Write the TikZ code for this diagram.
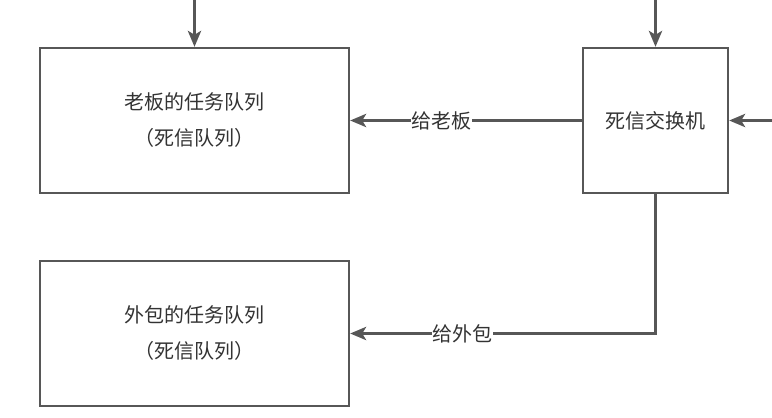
\documentclass[tikz,border=0pt]{standalone}
\usepackage{fontspec}
\setmainfont{Noto Sans CJK SC}
\usetikzlibrary{arrows.meta}
\definecolor{linegray}{HTML}{575757}
\definecolor{textgray}{HTML}{333333}
\begin{document}
\begin{tikzpicture}[x=0.75pt,y=-0.75pt,
  box/.style={draw=linegray,line width=1.8pt,fill=white,inner sep=0pt,align=center,
    text=textgray,font=\fontsize{15pt}{27pt}\selectfont},
  arr/.style={draw=linegray,line width=1.8pt,-{Stealth[length=12pt,width=10pt,inset=3pt]}},
  lbl/.style={fill=white,text=textgray,inner sep=0.5pt,font=\fontsize{15pt}{18pt}\selectfont}]
\useasboundingbox (0,0) rectangle (772,418);
\node[box,minimum width=231.75pt,minimum height=108.75pt] (boss) at (194.5,120.5) {老板的任务队列\\（死信队列）};
\node[box,minimum width=231.75pt,minimum height=108.75pt] (out) at (194.5,333.5) {外包的任务队列\\（死信队列）};
\node[box,minimum width=108.75pt,minimum height=108.75pt] (dlx) at (655.5,120.5) {死信交换机};
\coordinate (topA) at (194.5,0);
\coordinate (topB) at (655.5,0);
\coordinate (rightIn) at (772,120.5);
\draw[arr] (topA) -- (boss.north);
\draw[arr] (topB) -- (dlx.north);
\draw[arr] (rightIn) -- (dlx.east);
\draw[arr] (dlx.west) -- node[lbl,pos=0.607] {给老板} (boss.east);
\draw[arr] (dlx.south) |- node[lbl,pos=0.816] {给外包} (out.east);
\end{tikzpicture}
\end{document}
